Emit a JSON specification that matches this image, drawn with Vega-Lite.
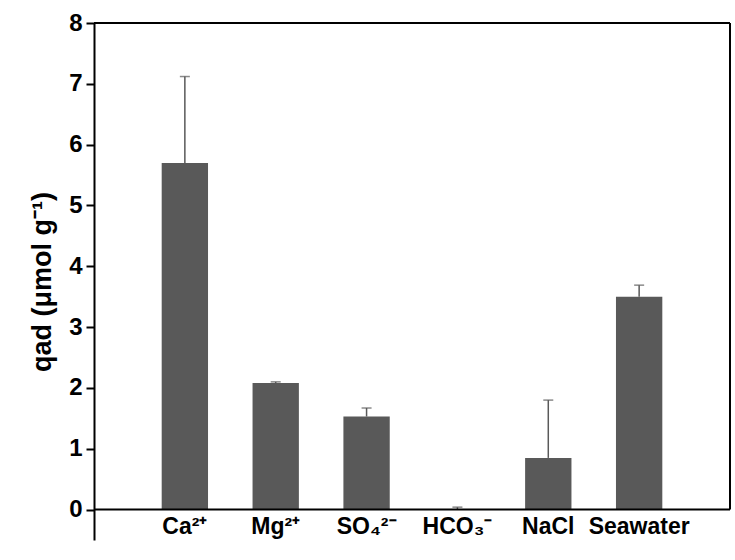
{
  "$schema": "https://vega.github.io/schema/vega-lite/v6.json",
  "width": 636,
  "height": 517,
  "autosize": "none",
  "padding": {"left": 94, "top": 23, "right": 5, "bottom": 20},
  "background": "white",
  "config": {"view": {"stroke": null}, "font": "Liberation Sans"},
  "data": {"values": [
    {"ion": "Ca²⁺", "q": 5.7, "hi": 7.12},
    {"ion": "Mg²⁺", "q": 2.08, "hi": 2.1},
    {"ion": "SO₄²⁻", "q": 1.53, "hi": 1.67},
    {"ion": "HCO₃⁻", "q": 0.0, "hi": 0.04},
    {"ion": "NaCl", "q": 0.85, "hi": 1.8},
    {"ion": "Seawater", "q": 3.5, "hi": 3.69}
  ]},
  "encoding": {
    "x": {"field": "ion", "type": "nominal", "sort": null,
      "scale": {"paddingInner": 0.49, "paddingOuter": 0.745},
      "axis": {"title": null, "domain": false, "ticks": false, "offset": -30, "labelAngle": 0,
        "labelFontSize": 23, "labelFontWeight": "bold", "labelColor": "black", "labelPadding": 5, "labelFont": "Liberation Sans"}}
  },
  "layer": [
    {
      "mark": {"type": "rule", "color": "#595959", "strokeWidth": 1.5},
      "encoding": {
        "y": {"field": "q", "type": "quantitative"},
        "y2": {"field": "hi"}
      }
    },
    {
      "mark": {"type": "tick", "color": "#595959", "thickness": 1.5, "size": 10, "orient": "horizontal"},
      "encoding": {"y": {"field": "hi", "type": "quantitative"}}
    },
    {
      "mark": {"type": "bar", "color": "#595959"},
      "encoding": {
        "y": {"field": "q", "type": "quantitative",
          "scale": {"domain": [-0.5, 8], "nice": false, "zero": false},
          "axis": {
            "title": "qad (μmol g⁻¹)",
            "titleFontSize": 27, "titleFontWeight": "bold", "titleColor": "black", "titlePadding": 12, "titleFont": "Liberation Sans",
            "values": [0, 0.5, 1, 1.5, 2, 2.5, 3, 3.5, 4, 4.5, 5, 5.5, 6, 6.5, 7, 7.5, 8],
            "format": "d",
            "labelExpr": "datum.value % 1 === 0 ? datum.label : ''",
            "labelFontSize": 24, "labelFontWeight": "bold", "labelColor": "black", "labelPadding": 4, "labelFont": "Liberation Sans",
            "grid": false, "domainColor": "black", "domainWidth": 2,
            "tickColor": "black", "tickWidth": 2,
            "tickSize": {"condition": {"test": "datum.value % 1 !== 0", "value": 4}, "value": 8}
          }
        }
      }
    },
    {
      "data": {"values": [{"v": 0}, {"v": 8}]},
      "mark": {"type": "rule", "color": "black", "strokeWidth": 2},
      "encoding": {"y": {"field": "v", "type": "quantitative"}, "x": null}
    },
    {
      "data": {"values": [{"ion": "Seawater", "a": 0, "b": 8}]},
      "mark": {"type": "rule", "color": "black", "strokeWidth": 2},
      "encoding": {
        "x": {"field": "ion", "type": "nominal", "bandPosition": 2.4608},
        "y": {"field": "a", "type": "quantitative"},
        "y2": {"field": "b"}
      }
    }
  ]
}
